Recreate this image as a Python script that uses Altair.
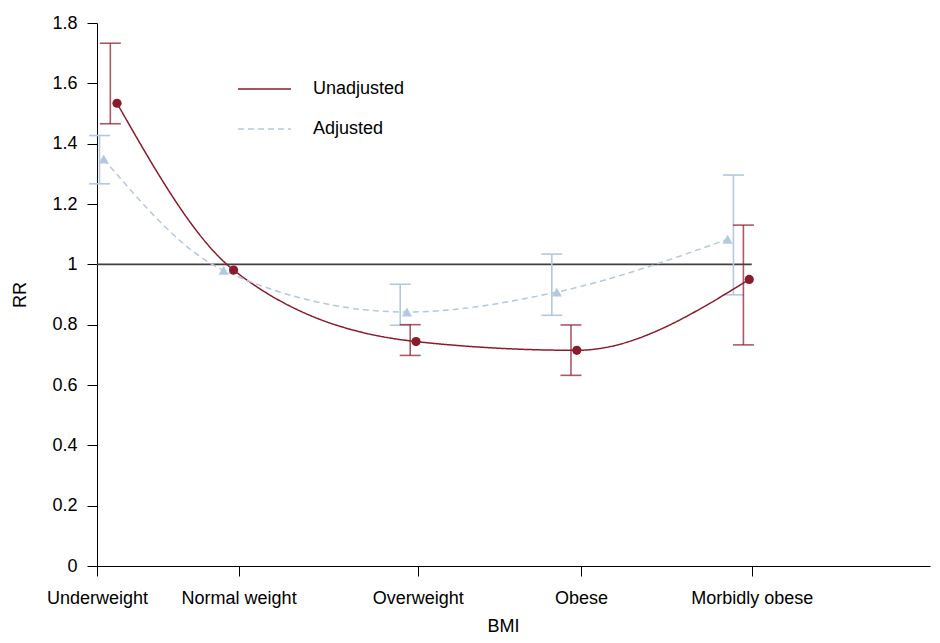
import altair as alt
import pandas as pd

# ---- data ----
categories = ["Underweight", "Normal weight", "Overweight", "Obese", "Morbidly obese"]
category_pos = [0.0, 1.70, 3.85, 5.81, 7.86]

series_names = ["Unadjusted", "Adjusted"]

unadj_x = [0.24, 1.64, 3.83, 5.76, 7.83]
unadj_rr = [1.534, 0.981, 0.744, 0.715, 0.950]
unadj_ci_x = [0.16, 3.76, 5.69, 7.76]
unadj_lo = [1.466, 0.698, 0.632, 0.733]
unadj_hi = [1.733, 0.800, 0.799, 1.130]

adj_x = [0.08, 1.52, 3.72, 5.52, 7.57]
adj_rr = [1.349, 0.980, 0.842, 0.908, 1.083]
adj_ci_x = [0.03, 3.64, 5.46, 7.64]
adj_lo = [1.267, 0.798, 0.831, 0.899]
adj_hi = [1.427, 0.934, 1.034, 1.296]

ref_value = 1.0
y_ticks = [0, 0.2, 0.4, 0.6, 0.8, 1.0, 1.2, 1.4, 1.6, 1.8]

RED = "#8B1A2A"
BLUE = "#b4c8df"
FONT = "Liberation Sans"

# ---- tables ----
lines_df = pd.DataFrame({
    "series": [series_names[0]] * len(unadj_x) + [series_names[1]] * len(adj_x),
    "x": unadj_x + adj_x,
    "rr": unadj_rr + adj_rr,
})
unadj_pts = pd.DataFrame({"x": unadj_x, "rr": unadj_rr})
adj_pts = pd.DataFrame({"x": adj_x, "rr": adj_rr})
unadj_ci = pd.DataFrame({"x": unadj_ci_x, "lo": unadj_lo, "hi": unadj_hi})
adj_ci = pd.DataFrame({"x": adj_ci_x, "lo": adj_lo, "hi": adj_hi})
ref_df = pd.DataFrame({"x": [category_pos[0]], "x2": [category_pos[-1]], "rr": [ref_value]})

label_expr = " : ".join(
    f"abs(datum.value - {p}) < 0.001 ? '{c}'" for p, c in zip(category_pos, categories)
) + " : ''"

x_axis = alt.Axis(
    values=category_pos, labelExpr=label_expr, title="BMI", grid=False,
    tickSize=10, tickColor="black", domainColor="black", domainWidth=1,
    labelFontSize=18, titleFontSize=18, titleFontWeight="normal",
    labelFont=FONT, titleFont=FONT, labelColor="black", titleColor="black",
    labelPadding=13, titlePadding=10, titleX=406, labelFlush=False, labelOverlap=False,
)
y_axis = alt.Axis(
    values=y_ticks, format="~g", title="RR", grid=False,
    tickSize=10, tickColor="black", domainColor="black", domainWidth=1,
    labelFontSize=18, titleFontSize=18, titleFontWeight="normal",
    labelFont=FONT, titleFont=FONT, labelColor="black", titleColor="black",
    labelPadding=10, titlePadding=22,
)
x_scale = alt.Scale(domain=[0, 10], nice=False, zero=False)
y_scale = alt.Scale(domain=[0, 1.8], nice=False, zero=False)


def X(field="x"):
    return alt.X(f"{field}:Q", scale=x_scale, axis=x_axis, title="BMI")


def Y(field):
    return alt.Y(f"{field}:Q", scale=y_scale, axis=y_axis, title="RR")


ref_rule = alt.Chart(ref_df).mark_rule(color="#404040", strokeWidth=1.6).encode(
    x=X(), x2="x2:Q", y=Y("rr")
)


def ci_layers(df, color, opacity):
    stem = alt.Chart(df).mark_rule(color=color, strokeWidth=1.6, opacity=opacity).encode(
        x=X(), y=Y("lo"), y2="hi:Q"
    )
    cap_lo = alt.Chart(df).mark_tick(
        orient="horizontal", size=21, thickness=1.6, color=color, opacity=opacity
    ).encode(x=X(), y=Y("lo"))
    cap_hi = alt.Chart(df).mark_tick(
        orient="horizontal", size=21, thickness=1.6, color=color, opacity=opacity
    ).encode(x=X(), y=Y("hi"))
    return [stem, cap_lo, cap_hi]


legend_cfg = dict(
    title=None, orient="none", legendX=140, legendY=56,
    symbolType="stroke", symbolSize=53 * 53, symbolStrokeWidth=1.5,
    clipHeight=20, rowPadding=20, labelOffset=21, padding=0,
    labelFontSize=18, labelFont=FONT, labelColor="black",
)

lines = alt.Chart(lines_df).mark_line(interpolate="monotone", strokeWidth=1.5).encode(
    x=X(), y=Y("rr"),
    color=alt.Color(
        "series:N",
        scale=alt.Scale(domain=series_names, range=[RED, BLUE]),
        legend=alt.Legend(**legend_cfg),
    ),
    strokeDash=alt.StrokeDash(
        "series:N",
        scale=alt.Scale(domain=series_names, range=[[1, 0], [6, 4]]),
        legend=alt.Legend(**legend_cfg),
    ),
)

adj_marks = alt.Chart(adj_pts).mark_point(
    shape="triangle-up", filled=True, size=105, color=BLUE, opacity=1
).encode(x=X(), y=Y("rr"))
unadj_marks = alt.Chart(unadj_pts).mark_point(
    shape="circle", filled=True, size=85, color=RED, opacity=1
).encode(x=X(), y=Y("rr"))

chart = alt.layer(
    ref_rule,
    *ci_layers(adj_ci, BLUE, 1.0),
    lines,
    adj_marks,
    *ci_layers(unadj_ci, RED, 0.72),
    unadj_marks,
).properties(
    width=833, height=543,
    autosize=alt.AutoSizeParams(type="none"),
    padding={"left": 89, "top": 15, "right": 2, "bottom": 69},
).configure_view(stroke=None)

chart.save("out.html", embed_options={"renderer": "svg", "actions": False})
